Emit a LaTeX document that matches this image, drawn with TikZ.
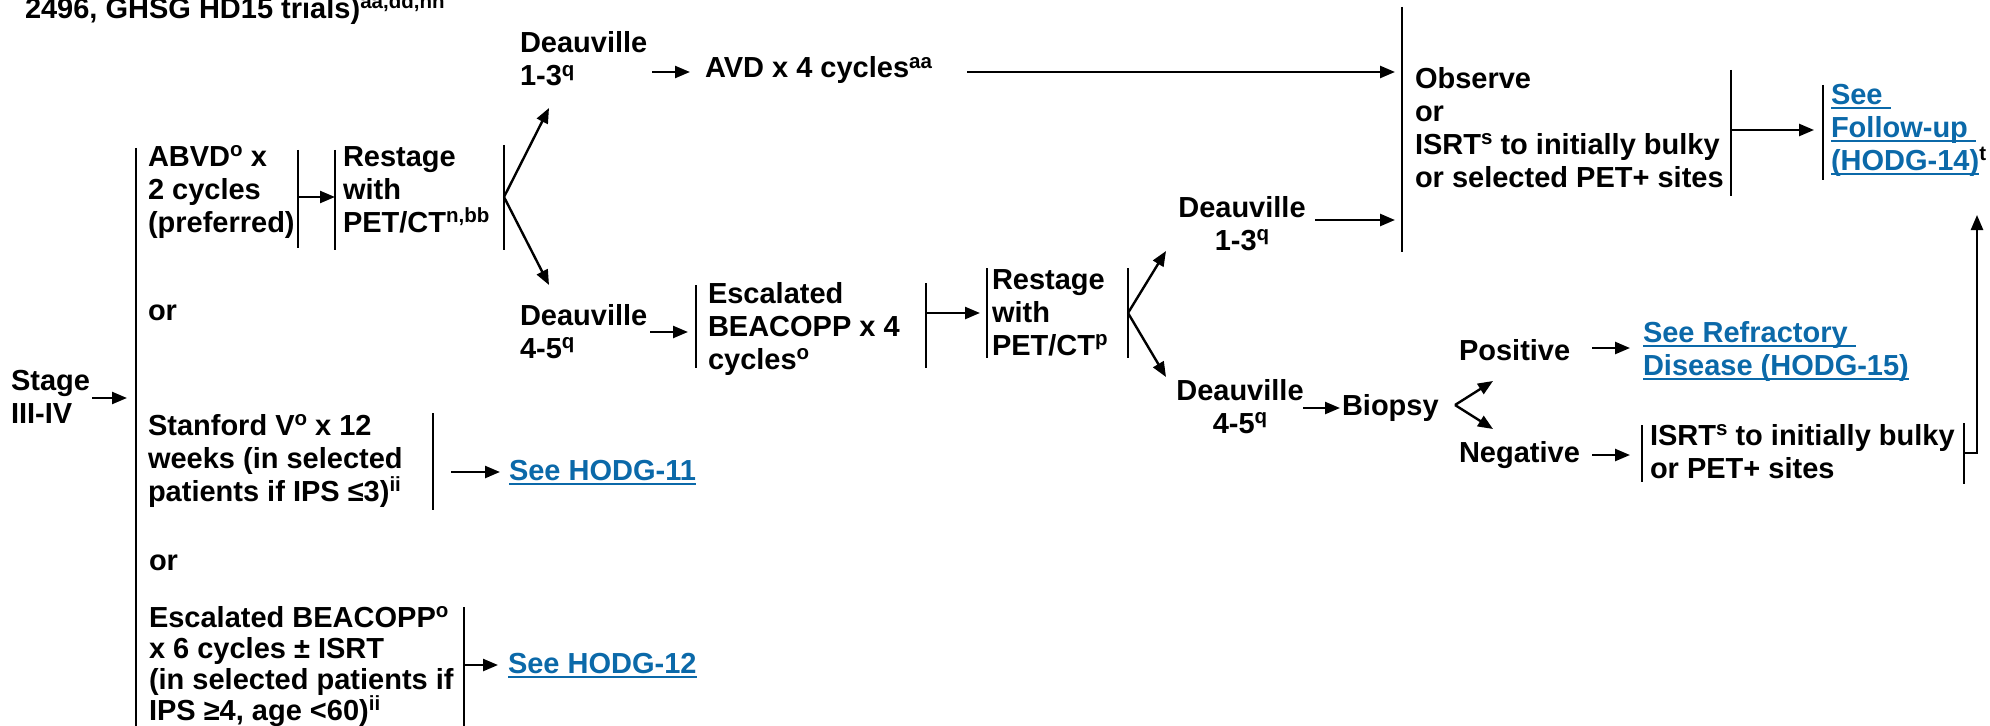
\documentclass[tikz,border=0pt]{standalone}
\usepackage{fontspec}
\setmainfont{Liberation Sans}
\usetikzlibrary{arrows.meta}
\definecolor{lnkc}{HTML}{0B69A9}
\newcommand\lk[1]{\setbox0\hbox{#1}\leavevmode\rlap{\rule[-4.5bp]{\wd0}{2bp}}\box0}
\newcommand\sps[1]{\raisebox{9.5bp}{\fontsize{20.5bp}{20bp}\selectfont #1}}
\newcommand\fl{\rule{0pt}{23bp}}
\begin{document}
\begin{tikzpicture}[x=1bp,y=-1bp,
  txt/.style={inner sep=0,outer sep=0,anchor=north west,align=left,
    font=\fontsize{29bp}{33bp}\selectfont\bfseries},
  ctxt/.style={txt,anchor=north,align=center},
  link/.style={txt,text=lnkc},
  bar/.style={line width=2.4bp},
  arr/.style={line width=2.4bp,-{Triangle[length=15bp,width=12bp]}}]
\useasboundingbox (0,0) rectangle (1990,726);
\clip (0,0) rectangle (1990,726);
% ---------- text nodes ----------
\node[txt] (hdr) at (25,-6) {\fl 2496, GHSG HD15 trials)\sps{aa,dd,hh}};
\node[txt] (stage) at (11,367) {\fl Stage\\III-IV};
\node[txt] (abvd) at (148,143) {\fl ABVD\sps{o} x\\2 cycles\\(preferred)};
\node[txt] (rst1) at (343,143) {\fl Restage\\with\\PET/CT\sps{n,bb}};
\node[txt] (d13a) at (520,30) {\fl Deauville\\1-3\sps{q}};
\node[txt] (avd) at (705,55) {\fl AVD x 4 cycles\sps{aa}};
\node[txt] (d45a) at (520,302) {\fl Deauville\\4-5\sps{q}};
\node[txt] (esc) at (708,280) {\fl Escalated\\BEACOPP x 4\\cycles\sps{o}};
\node[txt] (rst2) at (992,266) {\fl Restage\\with\\PET/CT\sps{p}};
\node[ctxt] (d13b) at (1242,194) {\fl Deauville\\1-3\sps{q}};
\node[ctxt] (d45b) at (1240,377) {\fl Deauville\\4-5\sps{q}};
\node[txt] (biopsy) at (1342,392) {\fl Biopsy};
\node[txt] (pos) at (1459,337) {\fl Positive};
\node[txt] (neg) at (1459,439) {\fl Negative};
\node[link] (refr) at (1643,319) {\fl\lk{See Refractory\ }\\\lk{Disease (HODG-15)}};
\node[txt] (isrt2) at (1650,422) {\fl ISRT\sps{s} to initially bulky\\or PET+ sites};
\node[txt] (obs) at (1415,65) {\fl Observe\\or\\ISRT\sps{s} to initially bulky\\or selected PET+ sites};
\node[link] (fu) at (1831,81) {\fl\lk{See\ }\\\lk{Follow-up\ }\\\lk{(HODG-14)}\textcolor{black}{\sps{t}}};
\node[txt] (or1) at (148,297) {\fl or};
\node[txt] (stan) at (148,412) {\fl Stanford V\sps{o} x 12\\weeks (in selected\\patients if IPS ≤3)\sps{ii}};
\node[link] (h11) at (509,457) {\fl\lk{See HODG-11}};
\node[txt] (or2) at (149,547) {\fl or};
\node[txt,font=\fontsize{29bp}{31bp}\selectfont\bfseries] (esc6) at (149,604) {\fl Escalated BEACOPP\sps{o}\\x 6 cycles ± ISRT\\(in selected patients if\\IPS ≥4, age <60)\sps{ii}};
\node[link] (h12) at (508,650) {\fl\lk{See HODG-12}};
% ---------- bar coordinates ----------
\coordinate (bigT) at (136,148);  \coordinate (bigB) at (136,730);
\coordinate (abRt) at (298,150);  \coordinate (abRb) at (298,248);
\coordinate (r1Lt) at (335,150);  \coordinate (r1Lb) at (335,250);
\coordinate (r1Rt) at (504,145);  \coordinate (r1Rb) at (504,250);
\coordinate (esLt) at (696,285);  \coordinate (esLb) at (696,368);
\coordinate (esRt) at (926,283);  \coordinate (esRb) at (926,368);
\coordinate (r2Lt) at (987,268);  \coordinate (r2Lb) at (987,358);
\coordinate (r2Rt) at (1128,268); \coordinate (r2Rb) at (1128,358);
\coordinate (obLt) at (1402,7);   \coordinate (obLb) at (1402,252);
\coordinate (obRt) at (1731,70);  \coordinate (obRb) at (1731,196);
\coordinate (fuLt) at (1823,85);  \coordinate (fuLb) at (1823,180);
\coordinate (snRt) at (433,413);  \coordinate (snRb) at (433,510);
\coordinate (e6Rt) at (464,607);  \coordinate (e6Rb) at (464,730);
\coordinate (isLt) at (1642,425); \coordinate (isLb) at (1642,482);
\coordinate (isRt) at (1964,423); \coordinate (isRb) at (1964,484);
\foreach \a/\b in {bigT/bigB,abRt/abRb,r1Lt/r1Lb,r1Rt/r1Rb,esLt/esLb,esRt/esRb,
  r2Lt/r2Lb,r2Rt/r2Rb,obLt/obLb,obRt/obRb,fuLt/fuLb,snRt/snRb,e6Rt/e6Rb,isLt/isLb,isRt/isRb}
  \draw[bar] (\a) -- (\b);
% ---------- connector coordinates ----------
\coordinate (st1) at (92,398);   \coordinate (st2) at (127,398);
\coordinate (ab1) at (298,197);  \coordinate (ab2) at (335,197);
\coordinate (fk1) at (504,197);  \coordinate (fk1u) at (549,108); \coordinate (fk1d) at (549,285);
\coordinate (da1) at (652,72);   \coordinate (da2) at (690,72);
\coordinate (av1) at (967,72);   \coordinate (av2) at (1395,72);
\coordinate (db1) at (650,332);  \coordinate (db2) at (688,332);
\coordinate (er1) at (926,313);  \coordinate (er2) at (980,313);
\coordinate (fk2) at (1128,313); \coordinate (fk2u) at (1166,251); \coordinate (fk2d) at (1166,377);
\coordinate (dc1) at (1315,220); \coordinate (dc2) at (1395,220);
\coordinate (ob1) at (1731,130); \coordinate (ob2) at (1814,130);
\coordinate (dd1) at (1303,408); \coordinate (dd2) at (1340,408);
\coordinate (fk3) at (1455,405); \coordinate (fk3u) at (1493,381); \coordinate (fk3d) at (1493,429);
\coordinate (po1) at (1592,348); \coordinate (po2) at (1630,348);
\coordinate (ne1) at (1592,455); \coordinate (ne2) at (1630,455);
\coordinate (is1) at (1964,453); \coordinate (is2) at (1977,453); \coordinate (is3) at (1977,215);
\coordinate (sn1) at (451,472);  \coordinate (sn2) at (500,472);
\coordinate (e61) at (464,665);  \coordinate (e62) at (498,665);
% ---------- connectors ----------
\draw[arr] (st1) -- (st2);
\draw[arr] (ab1) -- (ab2);
\draw[arr] (fk1) -- (fk1u);
\draw[arr] (fk1) -- (fk1d);
\draw[arr] (da1) -- (da2);
\draw[arr] (av1) -- (av2);
\draw[arr] (db1) -- (db2);
\draw[arr] (er1) -- (er2);
\draw[arr] (fk2) -- (fk2u);
\draw[arr] (fk2) -- (fk2d);
\draw[arr] (dc1) -- (dc2);
\draw[arr] (ob1) -- (ob2);
\draw[arr] (dd1) -- (dd2);
\draw[arr] (fk3) -- (fk3u);
\draw[arr] (fk3) -- (fk3d);
\draw[arr] (po1) -- (po2);
\draw[arr] (ne1) -- (ne2);
\draw[arr] (is1) -- (is2) -- (is3);
\draw[arr] (sn1) -- (sn2);
\draw[arr] (e61) -- (e62);
\end{tikzpicture}
\end{document}
